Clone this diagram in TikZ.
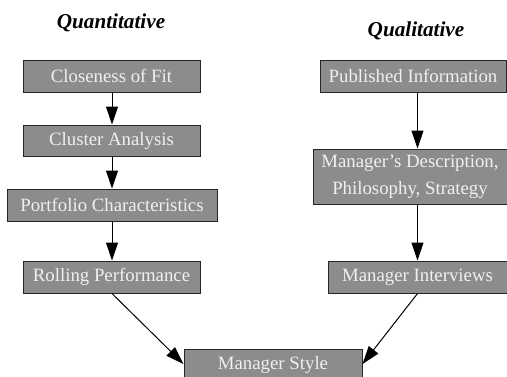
\documentclass[tikz,border=0pt]{standalone}
\usepackage{fontspec}
\setmainfont{Liberation Serif}
\usepackage{xcolor}
\usetikzlibrary{arrows.meta}
\definecolor{boxgray}{RGB}{140,140,140}
\definecolor{boxtext}{RGB}{240,240,240}

\begin{document}
\begin{tikzpicture}[x=0.5pt,y=-0.5pt,
		stage/.style={draw=black!85, line width=0.5pt, fill=boxgray, text=boxtext, inner sep=0pt, minimum height=16pt, align=center, font=\fontsize{9.4}{13.5}\selectfont},
		heading/.style={font=\fontsize{10.6}{12}\selectfont\bfseries\itshape},
		link/.style={draw, line width=0.5pt, -{Triangle[length=9pt,width=6pt]}}]
			\useasboundingbox (0,0) rectangle (507,376);
			\clip (0,0) rectangle (507,376);
			% column headings
			\node[heading] (quant) at (111,23) {Quantitative};
			\node[heading] (qual) at (416,31) {Qualitative};
			% quantitative column
			\node[stage, minimum width=88.5pt] (fit) at (111.5,76) {Closeness of Fit};
			\node[stage, minimum width=88.5pt, minimum height=15.5pt] (cluster) at (111.5,140.5) {Cluster Analysis};
			\node[stage, minimum width=105pt] (portfolio) at (112,205) {Portfolio Characteristics};
			\node[stage, minimum width=88.5pt] (rolling) at (111.5,277) {Rolling Performance};
			% qualitative column
			\node[stage, minimum width=93pt] (published) at (413,76) {Published Information};
			\node[stage, minimum width=97pt, minimum height=27.5pt] (description) at (410,176.5) {Manager’s Description,\\Philosophy, Strategy};
			\node[stage, minimum width=89.5pt] (interviews) at (417.5,277) {Manager Interviews};
			% result
			\node[stage, minimum width=89pt] (style) at (273,365) {Manager Style};
			% links
			\draw[link] (fit.south -| portfolio.south) -- (cluster.north -| portfolio.south);
			\draw[link] (cluster.south -| portfolio.south) -- (portfolio.north);
			\draw[link] (portfolio.south) -- (rolling.north -| portfolio.south);
			\draw[link] (published.south -| interviews.south) -- (description.north -| interviews.south);
			\draw[link] (description.south -| interviews.south) -- (interviews.south |- interviews.north);
			\draw[link] (rolling.south -| portfolio.south) -- ([yshift=0.5pt]style.west);
			\draw[link] (interviews.south) -- ([yshift=0.5pt]style.east);
		\end{tikzpicture}
\end{document}
